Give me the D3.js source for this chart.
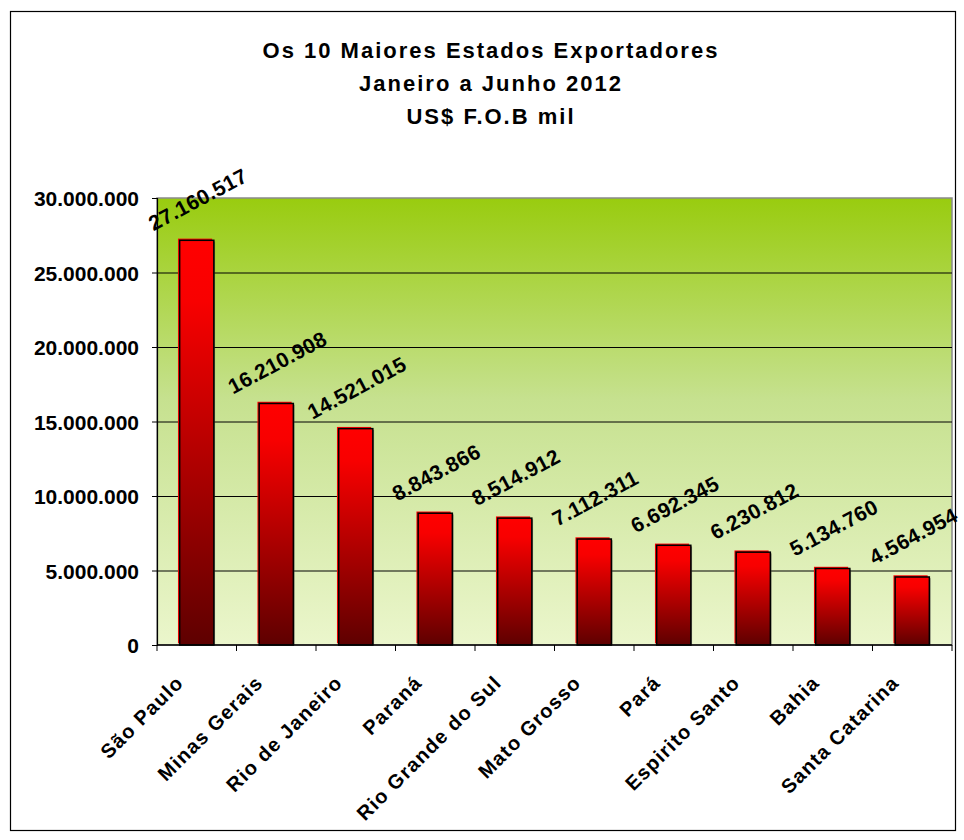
<!DOCTYPE html>
<html>
<head>
<meta charset="utf-8">
<script src="https://cdn.jsdelivr.net/npm/d3@7/dist/d3.min.js"></script>
<style>
  html, body { margin: 0; padding: 0; background: #fff; }
  svg { display: block; font-family: "Liberation Sans", Arial, sans-serif; font-weight: bold; }
</style>
</head>
<body>
<svg id="chart" width="964" height="840"></svg>
<script>
const titleLines = ["Os 10 Maiores Estados Exportadores", "Janeiro a Junho 2012", "US$ F.O.B mil"];
const categories = ["São Paulo", "Minas Gerais", "Rio de Janeiro", "Paraná", "Rio Grande do Sul",
                    "Mato Grosso", "Pará", "Espirito Santo", "Bahia", "Santa Catarina"];
const values = [27160517, 16210908, 14521015, 8843866, 8514912, 7112311, 6692345, 6230812, 5134760, 4564954];
const yTicks = [0, 5000000, 10000000, 15000000, 20000000, 25000000, 30000000];

const locale = d3.formatLocale({ decimal: ",", thousands: ".", grouping: [3], currency: ["", ""] });
const fmt = locale.format(",d");

const svg = d3.select("#chart");
const plot = { left: 157, right: 952, top: 198, bottom: 645 };

const defs = svg.append("defs");
const bg = defs.append("linearGradient").attr("id", "bgGrad").attr("x1", 0).attr("y1", 0).attr("x2", 0).attr("y2", 1);
bg.append("stop").attr("offset", "0%").attr("stop-color", "#99cc0f");
bg.append("stop").attr("offset", "45%").attr("stop-color", "#c6e18f");
bg.append("stop").attr("offset", "100%").attr("stop-color", "#ebf6cc");
const bar = defs.append("linearGradient").attr("id", "barGrad").attr("x1", 0).attr("y1", 0).attr("x2", 0).attr("y2", 1);
bar.append("stop").attr("offset", "0%").attr("stop-color", "#ff0000");
bar.append("stop").attr("offset", "15%").attr("stop-color", "#f80000");
bar.append("stop").attr("offset", "100%").attr("stop-color", "#5e0000");

// outer frame
svg.append("rect").attr("x", 10.5).attr("y", 11.5).attr("width", 945).attr("height", 819)
  .attr("fill", "#fff").attr("stroke", "#000").attr("stroke-width", 1.2);

// title
const title = svg.append("text").attr("text-anchor", "middle").attr("font-size", 22)
  .attr("letter-spacing", "2px").attr("fill", "#000");
titleLines.forEach((t, i) => {
  title.append("tspan").attr("x", 491).attr("y", 58 + i * 33).text(t);
});

const x = d3.scaleBand().domain(categories).range([plot.left, plot.right]).paddingInner(0.57).paddingOuter(0.285);
const y = d3.scaleLinear().domain([0, 30000000]).range([plot.bottom, plot.top]);

// plot background
svg.append("rect").attr("x", plot.left).attr("y", plot.top)
  .attr("width", plot.right - plot.left).attr("height", plot.bottom - plot.top)
  .attr("fill", "url(#bgGrad)").attr("stroke", "#8a8a8a").attr("stroke-width", 1.5);

// gridlines
svg.append("g").attr("transform", `translate(${plot.left},0)`)
  .call(d3.axisLeft(y).tickValues(yTicks.slice(1, -1)).tickSize(-(plot.right - plot.left)).tickFormat(""))
  .call(g => g.select(".domain").remove())
  .call(g => g.selectAll("line").attr("stroke", "#000").attr("stroke-width", 1));

// bars
const step = x.step(), bw = x.bandwidth();
const bars = svg.append("g").selectAll("g").data(categories).join("g");
bars.append("rect")
  .attr("x", d => x(d) - 1.7).attr("y", (d, i) => y(values[i]) - 1.7)
  .attr("width", bw).attr("height", (d, i) => plot.bottom - y(values[i]))
  .attr("fill", "#ff0000");
bars.append("rect")
  .attr("x", d => x(d) + 1.2).attr("y", (d, i) => y(values[i]) + 1.2)
  .attr("width", bw).attr("height", (d, i) => plot.bottom - y(values[i]) - 1.2)
  .attr("fill", "#3a3a3a").attr("opacity", 0.6);
bars.append("rect")
  .attr("x", d => x(d)).attr("y", (d, i) => y(values[i]))
  .attr("width", bw).attr("height", (d, i) => plot.bottom - y(values[i]))
  .attr("fill", "url(#barGrad)").attr("stroke", "#000").attr("stroke-width", 1.5);

// y axis
const yAxis = svg.append("g").attr("transform", `translate(${plot.left},0)`)
  .call(d3.axisLeft(y).tickValues(yTicks).tickSize(5).tickPadding(13).tickFormat(fmt));
yAxis.select(".domain").attr("stroke", "#000").attr("stroke-width", 1.2);
yAxis.selectAll("line").attr("stroke", "#000");
yAxis.selectAll("text").attr("font-size", 21).attr("font-family", "Liberation Sans, Arial, sans-serif")
  .attr("font-weight", "bold").attr("fill", "#000").attr("dy", "0.36em");

// x axis line and boundary ticks
svg.append("line").attr("x1", plot.left).attr("x2", plot.right).attr("y1", plot.bottom).attr("y2", plot.bottom)
  .attr("stroke", "#000").attr("stroke-width", 1.5);
const bounds = categories.map(d => x(d) - (step - bw) / 2).concat([x(categories[categories.length - 1]) + bw + (step - bw) / 2]);
svg.append("g").selectAll("line").data(bounds).join("line")
  .attr("x1", d => d).attr("x2", d => d).attr("y1", plot.bottom).attr("y2", plot.bottom + 6)
  .attr("stroke", "#000").attr("stroke-width", 1);

// x labels
svg.append("g").selectAll("text").data(categories).join("text")
  .attr("transform", d => `translate(${x(d) + bw / 2 - 12},684) rotate(-45)`)
  .attr("text-anchor", "end").attr("font-size", 20).attr("letter-spacing", "1.2px").attr("fill", "#000")
  .text(d => d);

// data labels
svg.append("g").selectAll("text").data(categories).join("text")
  .attr("transform", (d, i) => `translate(${x(d) + bw / 2 + 1},${y(values[i]) - 41}) rotate(-28)`)
  .attr("text-anchor", "middle").attr("dominant-baseline", "central")
  .attr("font-size", 21).attr("letter-spacing", "0.3px").attr("fill", "#000")
  .text((d, i) => fmt(values[i]));
</script>
</body>
</html>
